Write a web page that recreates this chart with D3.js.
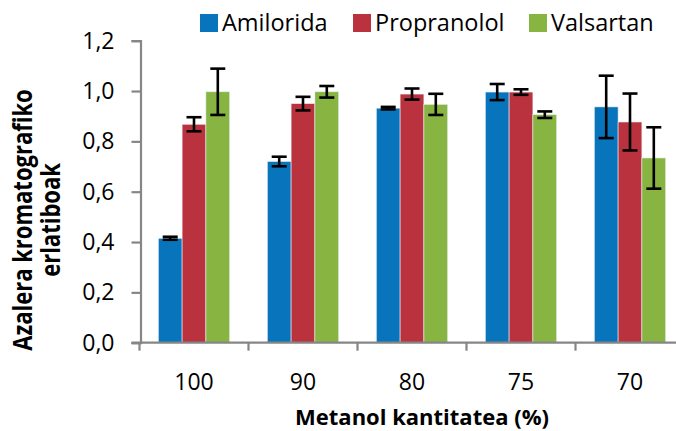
<!DOCTYPE html>
<html>
<head>
<meta charset="utf-8">
<script src="https://cdn.jsdelivr.net/npm/d3@7"></script>
<style>
  html, body { margin: 0; padding: 0; background: #fff; }
  svg { display: block; }
  text { font-family: "Open Sans", sans-serif; fill: #000; }
</style>
</head>
<body>
<svg id="chart" width="676" height="431"></svg>
<script>
const categories = ["100", "90", "80", "75", "70"];
const seriesNames = ["Amilorida", "Propranolol", "Valsartan"];
const amilorida = [0.415, 0.72, 0.932, 0.996, 0.937];
const propranolol = [0.868, 0.95, 0.988, 0.996, 0.877];
const valsartan = [0.997, 0.997, 0.947, 0.906, 0.734];
const amiloridaErr = [0.006, 0.019, 0.005, 0.032, 0.124];
const propranololErr = [0.028, 0.027, 0.022, 0.011, 0.113];
const valsartanErr = [0.092, 0.023, 0.042, 0.013, 0.122];
const yTicks = [0, 0.2, 0.4, 0.6, 0.8, 1.0, 1.2];
const colors = ["#0874BB", "#BA323D", "#88B441"];
const xTitle = "Metanol kantitatea (%)";
const yTitleLines = ["Azalera kromatografiko", "erlatiboak"];

(function () {
const values = [amilorida, propranolol, valsartan];
const errs = [amiloridaErr, propranololErr, valsartanErr];

const svg = d3.select("#chart");
const pLeft = 140.5, pRight = 684.5, pTop = 40.7, pBottom = 342.7;

const x = d3.scaleBand().domain(categories).range([pLeft - 1, pRight])
  .paddingInner(0.345).paddingOuter(0.1725);
const xs = d3.scaleBand().domain(seriesNames).range([0, x.bandwidth()]).padding(0);
const y = d3.scaleLinear().domain([0, 1.2]).range([pBottom, pTop]);
const fmt = v => d3.format(".1f")(v).replace(".", ",");

const rows = [];
categories.forEach((c, i) => seriesNames.forEach((s, j) => rows.push({c, s, j, v: values[j][i], e: errs[j][i]})));

svg.append("g").selectAll("rect").data(rows).join("rect")
  .attr("x", d => x(d.c) + xs(d.s))
  .attr("width", xs.bandwidth())
  .attr("y", d => y(d.v))
  .attr("height", d => y(0) - y(d.v))
  .attr("fill", d => colors[d.j])
  .attr("stroke", "#e8eef5").attr("stroke-width", 0.6);

const eg = svg.append("g").attr("stroke", "#000").attr("stroke-width", 2.6).attr("fill", "none");
rows.forEach(d => {
  const cx = x(d.c) + xs(d.s) + xs.bandwidth() / 2;
  const y1 = y(d.v + d.e), y2 = y(d.v - d.e);
  eg.append("line").attr("x1", cx).attr("x2", cx).attr("y1", y1).attr("y2", y2);
  eg.append("line").attr("x1", cx - 7.5).attr("x2", cx + 7.5).attr("y1", y1).attr("y2", y1);
  eg.append("line").attr("x1", cx - 7.5).attr("x2", cx + 7.5).attr("y1", y2).attr("y2", y2);
});

const yAxis = d3.axisLeft(y).tickValues(yTicks).tickFormat(fmt).tickSize(9).tickPadding(17);
const yg = svg.append("g").attr("transform", `translate(${pLeft},0)`).call(yAxis);
yg.select(".domain").attr("stroke", "#868686").attr("stroke-width", 2.2);
yg.selectAll(".tick line").attr("stroke", "#868686").attr("stroke-width", 2.2);
yg.selectAll(".tick text").attr("font-size", 23).attr("font-family", "Open Sans").attr("fill", "#000");

const xg = svg.append("g").attr("transform", `translate(0,${pBottom})`);
xg.append("line").attr("x1", pLeft - 9).attr("x2", pRight).attr("y1", 0).attr("y2", 0)
  .attr("stroke", "#868686").attr("stroke-width", 2.2);
const bounds = categories.map(c => x(c) - x.step() * x.paddingInner() / 2);
bounds.push(pRight);
xg.selectAll("line.t").data(bounds).join("line").attr("class", "t")
  .attr("x1", d => d).attr("x2", d => d).attr("y1", 0).attr("y2", 8)
  .attr("stroke", "#868686").attr("stroke-width", 2.2);
xg.selectAll("text").data(categories).join("text")
  .attr("x", d => x(d) + x.bandwidth() / 2).attr("y", 47)
  .attr("text-anchor", "middle").attr("font-size", 23).text(d => d);

svg.append("text").attr("x", 422).attr("y", 425).attr("text-anchor", "middle")
  .attr("font-size", 22).attr("font-weight", "bold").text(xTitle);
const yt = svg.append("text").attr("transform", "translate(32,220) rotate(-90) scale(1,1.25)")
  .attr("text-anchor", "middle").attr("font-size", 22).attr("font-weight", "bold");
yt.selectAll("tspan").data(yTitleLines).join("tspan")
  .attr("x", 0).attr("dy", (d, i) => i === 0 ? 0 : 22).text(d => d);

const legX = [200, 353, 529];
const lg = svg.append("g");
seriesNames.forEach((s, j) => {
  lg.append("rect").attr("x", legX[j]).attr("y", 14).attr("width", 18).attr("height", 18).attr("fill", colors[j]);
  lg.append("text").attr("x", legX[j] + 22).attr("y", 31).attr("font-size", 23.5).text(s);
});
})();
</script>
</body>
</html>
